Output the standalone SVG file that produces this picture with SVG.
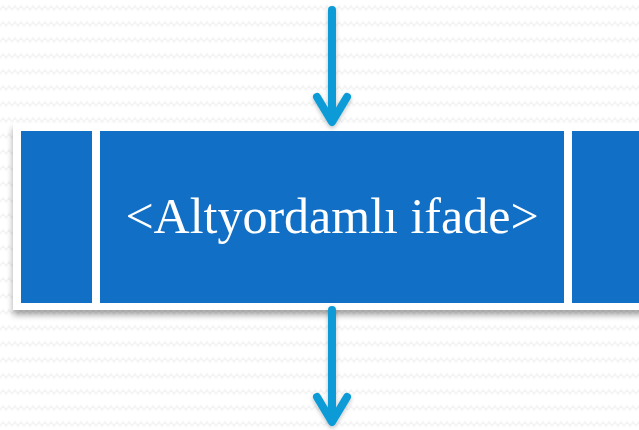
<svg xmlns="http://www.w3.org/2000/svg" width="639" height="430" viewBox="0 0 639 430">
  <defs>
    <pattern id="zigzag" width="12" height="16" patternUnits="userSpaceOnUse">
      <rect width="12" height="16" fill="#ffffff"/>
      <path d="M0 10 L3 6 L6 10 L9 6 L12 10" fill="none" stroke="#f4f4f4" stroke-width="1.5"/>
    </pattern>
    <filter id="shadow" x="-10%" y="-10%" width="120%" height="130%">
      <feDropShadow dx="0" dy="5" stdDeviation="3" flood-color="#000000" flood-opacity="0.35"/>
    </filter>
    <filter id="arrowShadow" x="-50%" y="-10%" width="200%" height="130%">
      <feDropShadow dx="0" dy="2" stdDeviation="2" flood-color="#000000" flood-opacity="0.25"/>
    </filter>
    <style>
      .cell { fill: #116fc5; }
      .frame { fill: #ffffff; }
      .arrow { fill: none; stroke: #0a9bd7; stroke-width: 8; stroke-linecap: round; stroke-linejoin: round; }
      .label { font-family: "Liberation Serif", "DejaVu Serif", serif; font-size: 50px; fill: #ffffff; text-anchor: middle; }
    </style>
  </defs>

  <rect width="639" height="430" fill="url(#zigzag)"/>

  <!-- three-cell bar with white frame -->
  <g id="block">
    <rect class="frame" x="13" y="123" width="640" height="187" filter="url(#shadow)"/>
    <g id="cell-left">
      <rect class="cell" x="21" y="131" width="71" height="172"/>
    </g>
    <g id="cell-main">
      <rect class="cell" x="100" y="131" width="464" height="172"/>
      <text class="label" x="332" y="233">&lt;Altyordamlı ifade&gt;</text>
    </g>
    <g id="cell-right">
      <rect class="cell" x="572" y="131" width="80" height="172"/>
    </g>
  </g>

  <!-- flow arrows in and out -->
  <g id="connectors" filter="url(#arrowShadow)">
    <path class="arrow" d="M332 10 L332 120"/>
    <path class="arrow" d="M317 97 L332 122 L347 97"/>
    <path class="arrow" d="M332 310 L332 420"/>
    <path class="arrow" d="M317 397 L332 422 L347 397"/>
  </g>
</svg>
